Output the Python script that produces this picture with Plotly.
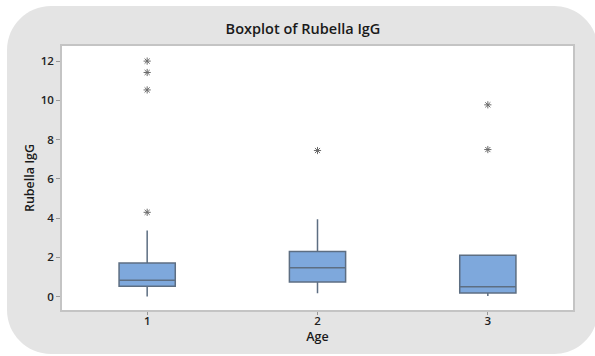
import plotly.graph_objects as go

# ---- data ----
ages = [1, 2, 3]
age_labels = ["1", "2", "3"]
q1 = [0.52, 0.74, 0.18]
medians = [0.83, 1.47, 0.50]
q3 = [1.71, 2.29, 2.10]
lower_whisker = [0.0, 0.16, 0.03]
upper_whisker = [3.36, 3.94, 2.10]
outliers_age1 = [4.29, 10.53, 11.42, 12.0]
outliers_age2 = [7.44]
outliers_age3 = [7.49, 9.77]
y_ticks = [0, 2, 4, 6, 8, 10, 12]

W, H = 595, 356
ML, MR, MT, MB = 62, 22, 46, 46
PW, PH = W - ML - MR, H - MT - MB

def px(x):
    return (x - ML) / PW

def py(y):
    return (H - MB - y) / PH

fig = go.Figure()

fig.add_trace(go.Box(
    x=ages, q1=q1, median=medians, q3=q3,
    lowerfence=lower_whisker, upperfence=upper_whisker,
    width=0.33, whiskerwidth=0,
    fillcolor="#7ea8dc",
    line=dict(color="#5d6e82", width=1.5),
    boxpoints=False, showlegend=False, hoverinfo="skip",
))

out_x, out_y = [], []
for a, vals in zip(ages, [outliers_age1, outliers_age2, outliers_age3]):
    out_x += [a] * len(vals)
    out_y += vals
fig.add_trace(go.Scatter(
    x=out_x, y=out_y, mode="markers", showlegend=False,
    marker=dict(symbol="asterisk-open", size=6, color="#6a6a6a",
                line=dict(width=1, color="#6a6a6a")),
))

# rounded gray background panel
x0, x1, y0, y1, r = 7, 598, 6, 354, 44
k = 0.5523 * r
path = (
    f"M {px(x0+r)},{py(y0)} L {px(x1-r)},{py(y0)} "
    f"C {px(x1-r+k)},{py(y0)} {px(x1)},{py(y0+r-k)} {px(x1)},{py(y0+r)} "
    f"L {px(x1)},{py(y1-r)} "
    f"C {px(x1)},{py(y1-r+k)} {px(x1-r+k)},{py(y1)} {px(x1-r)},{py(y1)} "
    f"L {px(x0+r)},{py(y1)} "
    f"C {px(x0+r-k)},{py(y1)} {px(x0)},{py(y1-r+k)} {px(x0)},{py(y1-r)} "
    f"L {px(x0)},{py(y0+r)} "
    f"C {px(x0)},{py(y0+r-k)} {px(x0+r-k)},{py(y0)} {px(x0+r)},{py(y0)} Z"
)
fig.add_shape(type="path", path=path, xref="paper", yref="paper",
              fillcolor="#e4e4e4", line=dict(width=0), layer="below")
fig.add_shape(type="rect", x0=0, x1=1, y0=0, y1=1, xref="paper", yref="paper",
              fillcolor="white", line=dict(width=0), layer="below")

font_fam = "Open Sans, Noto Sans, sans-serif"
fig.update_layout(
    width=W, height=H,
    margin=dict(l=ML, r=MR, t=MT, b=MB),
    paper_bgcolor="white", plot_bgcolor="rgba(0,0,0,0)",
    font=dict(family=font_fam, color="#222222"),
    title=dict(text="Boxplot of Rubella IgG", x=303 / W, xref="container",
               xanchor="center", y=1 - 29 / H, yanchor="middle",
               font=dict(size=14.5, color="#1a1a1a", weight=600)),
    xaxis=dict(range=[0.5, 3.5], tickvals=ages, ticktext=age_labels,
               showgrid=False, zeroline=False, showline=True, mirror=True,
               linecolor="#c4c4c4", linewidth=1.5, ticks="outside", ticklen=3,
               tickcolor="#999999", ticklabelstandoff=-4,
               tickfont=dict(size=11.5, color="#222222", weight=600),
               title=dict(text="Age", standoff=2,
                          font=dict(size=12.5, color="#1a1a1a", weight=600))),
    yaxis=dict(range=[-0.69, 12.77], tickvals=y_ticks,
               showgrid=False, zeroline=False, showline=True, mirror=True,
               linecolor="#c4c4c4", linewidth=1.5, ticks="outside", ticklen=4,
               tickcolor="#999999",
               tickfont=dict(size=11.5, color="#222222", weight=600),
               title=dict(text="Rubella IgG", standoff=3,
                          font=dict(size=12.5, color="#1a1a1a", weight=600))),
)

fig.write_html("out.html", config={"displayModeBar": False},
               post_script="document.body.style.margin='0';document.body.style.padding='0';")
